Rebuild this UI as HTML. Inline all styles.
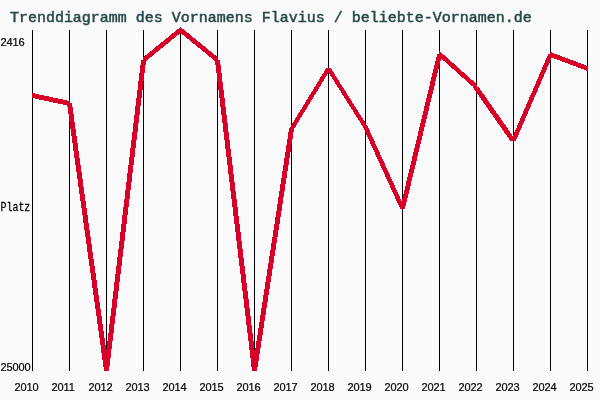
<!DOCTYPE html>
<html><head><meta charset="utf-8"><title>Trenddiagramm</title>
<style>
html,body{margin:0;padding:0;background:#fafafa;}
svg{display:block}
.t{font-family:"Liberation Mono",monospace;font-weight:normal;font-size:14px;fill:#264848;stroke:#264848;stroke-width:0.45px}
.l{font-family:"Liberation Sans",sans-serif;font-size:11px;fill:#000;stroke:#000;stroke-width:0.2px;letter-spacing:-0.12px}
.m{font-family:"Liberation Mono",monospace;font-size:12px;letter-spacing:0;stroke-width:0.25px}
</style></head><body>
<svg width="600" height="400" viewBox="0 0 600 400">
<rect width="600" height="400" fill="#fafafa"/>
<text class="t" transform="translate(9.9,22.4) scale(1.0714,1)">Trenddiagramm des Vornamens Flavius / beliebte-Vornamen.de</text>
<g><rect x="32" y="30" width="1" height="341" fill="#000"/><rect x="69" y="30" width="1" height="341" fill="#000"/><rect x="106" y="30" width="1" height="341" fill="#000"/><rect x="143" y="30" width="1" height="341" fill="#000"/><rect x="180" y="30" width="1" height="341" fill="#000"/><rect x="217" y="30" width="1" height="341" fill="#000"/><rect x="254" y="30" width="1" height="341" fill="#000"/><rect x="291" y="30" width="1" height="341" fill="#000"/><rect x="328" y="30" width="1" height="341" fill="#000"/><rect x="365" y="30" width="1" height="341" fill="#000"/><rect x="402" y="30" width="1" height="341" fill="#000"/><rect x="439" y="30" width="1" height="341" fill="#000"/><rect x="476" y="30" width="1" height="341" fill="#000"/><rect x="513" y="30" width="1" height="341" fill="#000"/><rect x="550" y="30" width="1" height="341" fill="#000"/><rect x="587" y="30" width="1" height="341" fill="#000"/></g>
<path d="M32 92.89 L70 101.11 L70 106.11 L32 97.89Z M66.93 103 L71.93 103 L109.07 371 L104.07 371Z M141.06 60 L146.06 60 L108.94 371 L103.94 371Z M143 57.41 L181 26.59 L181 32.59 L143 63.41Z M180 26.59 L218 57.41 L218 63.41 L180 32.59Z M214.94 60 L219.94 60 L257.06 371 L252.06 371Z M289.08 128.5 L294.08 128.5 L256.92 371 L251.92 371Z M326.31 68 L331.31 68 L293.69 129.5 L288.69 129.5Z M325.68 68 L330.68 68 L368.32 127.5 L363.32 127.5Z M362.77 126.5 L367.77 126.5 L405.23 209 L400.23 209Z M437.12 54 L442.12 54 L404.88 209 L399.88 209Z M439 50.55 L477 84.45 L477 90.45 L439 56.55Z M472.65 87 L478.65 87 L516.35 141 L510.35 141Z M548.22 54 L553.22 54 L515.78 141 L510.78 141Z M550 51.81 L588 66.19 L588 71.19 L550 56.81Z" fill="#d80026" fill-rule="nonzero" shape-rendering="crispEdges"/>
<g class="l"><text x="0.6" y="46.3">2416</text><text class="m" transform="translate(0.4,211) scale(0.833,1)">Platz</text><text x="0.5" y="371">25000</text><text x="14.600000000000001" y="391">2010</text><text x="51.6" y="391">2011</text><text x="88.6" y="391">2012</text><text x="125.6" y="391">2013</text><text x="162.6" y="391">2014</text><text x="199.6" y="391">2015</text><text x="236.6" y="391">2016</text><text x="273.6" y="391">2017</text><text x="310.6" y="391">2018</text><text x="347.6" y="391">2019</text><text x="384.6" y="391">2020</text><text x="421.6" y="391">2021</text><text x="458.6" y="391">2022</text><text x="495.6" y="391">2023</text><text x="532.6" y="391">2024</text><text x="569.6" y="391">2025</text></g>
</svg>
</body></html>
